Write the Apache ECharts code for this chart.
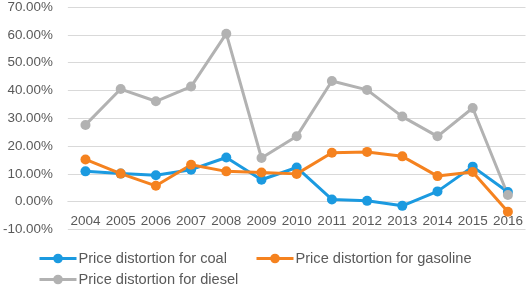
<!DOCTYPE html>
<html><head><meta charset="utf-8">
<script src="https://cdn.jsdelivr.net/npm/echarts@6/dist/echarts.min.js"></script>
<style>html,body{margin:0;padding:0;background:#fff}#c{width:526px;height:295px}</style>
</head><body><div id="c"></div>
<script>
const years = ['2004','2005','2006','2007','2008','2009','2010','2011','2012','2013','2014','2015','2016'];
const coal = [10.9, 10.1, 9.5, 11.5, 15.9, 7.9, 12.3, 0.8, 0.3, -1.5, 3.7, 12.6, 3.5];
const gasoline = [15.2, 10.1, 5.7, 13.3, 10.9, 10.5, 10.0, 17.6, 17.9, 16.3, 9.2, 10.7, -3.6];
const diesel = [27.6, 40.5, 36.1, 41.4, 60.4, 15.7, 23.5, 43.4, 40.2, 30.6, 23.5, 33.7, 2.4];
const seriesNames = ['Price distortion for coal', 'Price distortion for gasoline', 'Price distortion for diesel'];
const colors = ['#1b9ae0', '#f5821f', '#b2b2b2'];
const font = 'Liberation Sans, Arial, sans-serif';
const chart = echarts.init(document.getElementById('c'), null, {renderer: 'canvas'});
function mk(name, data, color) {
  return {
    name, type: 'line', data, color,
    symbol: 'circle', symbolSize: 10,
    lineStyle: {width: 3, color},
    itemStyle: {color},
    animation: false
  };
}
function lg(name, left, top) {
  return {data: [name], left, top, itemWidth: 37, itemHeight: 12, padding: 0,
    lineStyle: {width: 3},
    textStyle: {color: '#595959', fontSize: 14.6, fontFamily: font, padding: [0, 0, 0, -3]}};
}
chart.setOption({
  animation: false,
  grid: {left: 67.5, right: 0.5, top: 7, bottom: 65.5, containLabel: false},
  legend: [lg(seriesNames[0], 38, 251), lg(seriesNames[1], 255, 251), lg(seriesNames[2], 38, 272)],
  xAxis: {
    type: 'category', data: years, boundaryGap: true,
    offset: -27.8,
    axisLine: {onZero: false, lineStyle: {color: '#d9d9d9', width: 1}},
    axisTick: {show: false},
    axisLabel: {color: '#595959', fontSize: 13.5, fontFamily: font, margin: 13, interval: 0}
  },
  yAxis: {
    type: 'value', min: -10, max: 70, interval: 10,
    axisLine: {show: false}, axisTick: {show: false},
    splitLine: {lineStyle: {color: '#d9d9d9', width: 1}},
    axisLabel: {color: '#595959', fontSize: 13.4, fontFamily: font, margin: 15,
      formatter: v => v.toFixed(2) + '%'}
  },
  series: [mk(seriesNames[0], coal, colors[0]), mk(seriesNames[1], gasoline, colors[1]), mk(seriesNames[2], diesel, colors[2])]
});
</script></body></html>
